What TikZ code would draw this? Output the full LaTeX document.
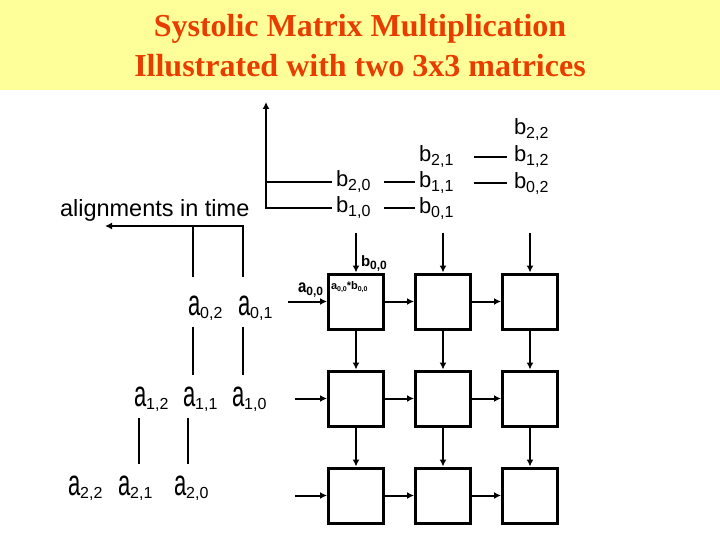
\documentclass[tikz,border=0pt]{standalone}
\usepackage{fontspec}
\usepackage{graphicx}
\usetikzlibrary{positioning,arrows.meta}

\newfontfamily\slidefont{Liberation Sans}
\newfontfamily\subfont{Liberation Sans}
\newfontfamily\titlefont{Liberation Serif}
\definecolor{banner}{HTML}{FFFF99}
\definecolor{titlered}{HTML}{E83C00}

\newcommand\idx[1]{\raisebox{-3.5pt}{\subfont\fontsize{16}{16}\selectfont #1}}
\newcommand\smidx[1]{\raisebox{-3pt}{\fontsize{12}{12}\selectfont #1}}
\newcommand\talla[1][1.65]{\scalebox{1}[#1]{a}}

\begin{document}
\begin{tikzpicture}[x=1pt,y=-1pt,>={Latex[length=7pt,width=7pt]},
  line width=2pt,node distance=87pt,
  cell/.style={draw,line width=3pt,minimum size=55pt,inner sep=0pt},
  lbl/.style={anchor=base west,inner sep=0pt,
    font=\slidefont\fontsize{22}{24}\selectfont},
  small lbl/.style={anchor=base west,inner sep=0pt,
    font=\slidefont\bfseries\fontsize{15}{16}\selectfont},
  title/.style={anchor=base,text=titlered,
    font=\titlefont\bfseries\fontsize{32}{36}\selectfont}]

  \useasboundingbox (0,0) rectangle (720,540);
  \fill[banner] (0,0) rectangle (720,90);
  \node[title] (t1) at (360,37) {Systolic Matrix Multiplication};
  \node[title] (t2) at (360,77) {Illustrated with two 3x3 matrices};

  % the 3x3 array of cells
  \node[cell] (p11) at (356,301.5) {};
  \node[cell] (p12) [right of=p11] {};
  \node[cell] (p13) [right of=p12] {};
  \node[cell] (p21) [below of=p11,node distance=97pt] {};
  \node[cell] (p22) [right of=p21] {};
  \node[cell] (p23) [right of=p22] {};
  \node[cell] (p31) [below of=p21,node distance=97pt] {};
  \node[cell] (p32) [right of=p31] {};
  \node[cell] (p33) [right of=p32] {};

  \node[anchor=north west,inner sep=0pt,
    font=\slidefont\bfseries\fontsize{11}{11}\selectfont] (prod)
    at ([xshift=3pt,yshift=-8pt]p11.north west)
    {a\raisebox{-2pt}{\fontsize{7}{7}\selectfont 0,0}*b\raisebox{-2pt}{\fontsize{7}{7}\selectfont 0,0}};

  \path[->]
    (p11) edge (p12) edge (p21)
    (p12) edge (p13) edge (p22)
    (p13) edge (p23)
    (p21) edge (p22) edge (p31)
    (p22) edge (p23) edge (p32)
    (p23) edge (p33)
    (p31) edge (p32)
    (p32) edge (p33);

  \draw[->] ([yshift=40pt]p11.north) -- (p11.north);
  \draw[->] ([yshift=40pt]p12.north) -- (p12.north);
  \draw[->] ([yshift=40pt]p13.north) -- (p13.north);
  \draw[->] ([xshift=-39pt]p11.west) -- (p11.west);
  \draw[->] ([xshift=-32pt]p21.west) -- (p21.west);
  \draw[->] ([xshift=-32pt]p31.west) -- (p31.west);

  \node[small lbl] (a00) at (297,292) {\talla[1.2]\smidx{0,0}};
  \node[small lbl] (b00) at (360,266) {b\smidx{0,0}};

  % columns of b
  \node[lbl] (b20) at (335,187) {b\idx{2,0}};
  \node[lbl] (b10) at (335,213) {b\idx{1,0}};
  \node[lbl] (b21) at (418,162) {b\idx{2,1}};
  \node[lbl] (b11) at (418,188) {b\idx{1,1}};
  \node[lbl] (b01) at (418,214) {b\idx{0,1}};
  \node[lbl] (b22) at (513,135) {b\idx{2,2}};
  \node[lbl] (b12) at (513,162) {b\idx{1,2}};
  \node[lbl] (b02) at (513,189) {b\idx{0,2}};

  \coordinate (tb) at (266,102);
  \draw[->,shorten <=3pt] (b10.west) -| (tb);
  \draw[shorten <=3pt] (b20.west) -- (b20.west -| tb);
  \draw[shorten <=13pt,shorten >=3pt] (b20.east) -- (b20.east -| b11.west);
  \draw[shorten <=13pt,shorten >=3pt] (b10.east) -- (b10.east -| b01.west);
  \draw[shorten <=20pt,shorten >=6pt] (b21.east) -- (b21.east -| b12.west);
  \draw[shorten <=20pt,shorten >=6pt] (b11.east) -- (b11.east -| b02.west);

  % rows of a
  \node[lbl,font=\slidefont\fontsize{23.5}{24}\selectfont] (time)
    at (59,216) {alignments in time};
  \node[lbl] (a02) at (187,315) {\talla\idx{0,2}};
  \node[lbl] (a01) at (237,315) {\talla\idx{0,1}};
  \node[lbl] (a12) at (133,406) {\talla\idx{1,2}};
  \node[lbl] (a11) at (182,406) {\talla\idx{1,1}};
  \node[lbl] (a10) at (231,406) {\talla\idx{1,0}};
  \node[lbl] (a22) at (67,495) {\talla\idx{2,2}};
  \node[lbl] (a21) at (117,495) {\talla\idx{2,1}};
  \node[lbl] (a20) at (173,495) {\talla\idx{2,0}};

  \coordinate (tl) at (105,226);
  \draw[->,shorten <=17pt] ([xshift=6pt]a01.north west) |- (tl);
  \draw[shorten <=17pt] ([xshift=6pt]a02.north west)
    -- ([xshift=6pt]a02.north west |- tl);
  \draw[shorten <=5pt,shorten >=10pt] ([xshift=6pt]a02.south west)
    -- ([xshift=6pt]a02.south west |- a11.north);
  \draw[shorten <=5pt,shorten >=10pt] ([xshift=6pt]a01.south west)
    -- ([xshift=6pt]a01.south west |- a10.north);
  \draw[shorten <=5pt,shorten >=10pt] ([xshift=6pt]a12.south west)
    -- ([xshift=6pt]a12.south west |- a21.north);
  \draw[shorten <=5pt,shorten >=10pt] ([xshift=6pt]a11.south west)
    -- ([xshift=6pt]a11.south west |- a20.north);

\end{tikzpicture}
\end{document}
